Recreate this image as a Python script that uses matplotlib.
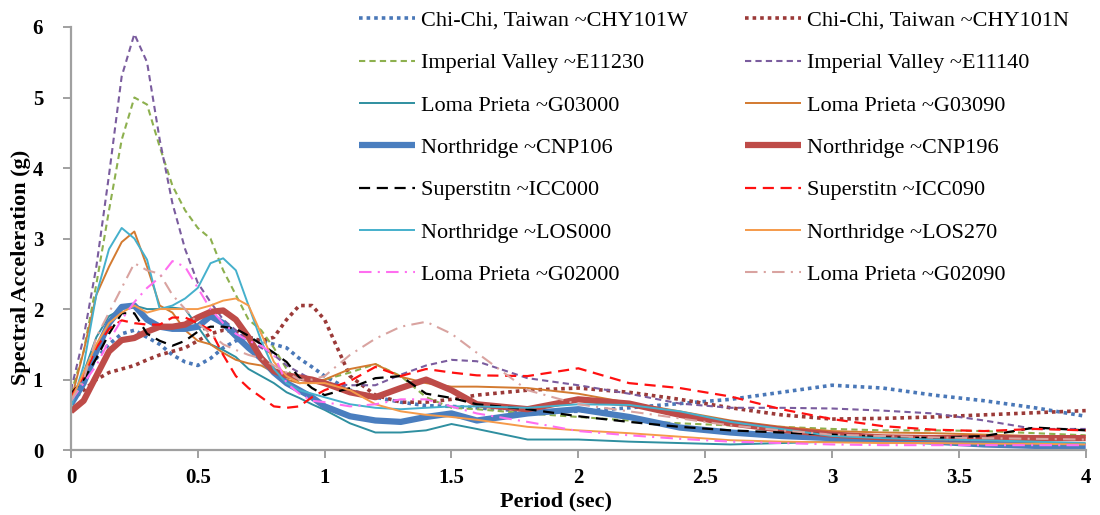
import matplotlib
matplotlib.use("Agg")
import matplotlib.pyplot as plt

plt.rcParams['font.family'] = ['Liberation Serif', 'DejaVu Serif']

period = [0, 0.05, 0.1, 0.15, 0.2, 0.25, 0.3, 0.35, 0.4, 0.45, 0.5, 0.55, 0.6, 0.65,
          0.7, 0.75, 0.8, 0.85, 0.9, 0.95, 1.0, 1.1, 1.2, 1.3, 1.4, 1.5, 1.6, 1.8,
          2.0, 2.2, 2.4, 2.6, 2.8, 3.0, 3.2, 3.4, 3.6, 3.8, 4.0]

chy101w = [0.75, 1.0, 1.3, 1.5, 1.65, 1.7, 1.6, 1.5, 1.35, 1.25, 1.2, 1.3, 1.45, 1.55,
           1.6, 1.55, 1.5, 1.45, 1.3, 1.18, 1.05, 0.85, 0.75, 0.68, 0.63, 0.62, 0.6, 0.55,
           0.55, 0.6, 0.66, 0.72, 0.82, 0.92, 0.88, 0.78, 0.7, 0.6, 0.48]
chy101n = [0.7, 0.85, 1.0, 1.1, 1.15, 1.2, 1.28, 1.35, 1.4, 1.45, 1.55, 1.65, 1.7, 1.68,
           1.6, 1.55, 1.6, 1.85, 2.05, 2.05, 1.85, 1.05, 0.78, 0.68, 0.68, 0.72, 0.78, 0.85,
           0.88, 0.82, 0.72, 0.6, 0.5, 0.44, 0.45, 0.47, 0.5, 0.53, 0.56]
e11230 = [0.8, 1.4, 2.35, 3.4, 4.4, 5.0, 4.9, 4.3, 3.75, 3.4, 3.15, 3.0, 2.55, 2.2,
          1.85, 1.7, 1.45, 1.15, 0.95, 0.95, 1.0, 1.1, 1.22, 1.05, 0.75, 0.6, 0.58, 0.52,
          0.47, 0.42, 0.38, 0.35, 0.33, 0.3, 0.28, 0.28, 0.27, 0.24, 0.21]
e11140 = [0.85, 1.6, 2.6, 3.9, 5.3, 5.9, 5.5, 4.4, 3.5, 2.85, 2.37, 2.1, 1.85, 1.7,
          1.55, 1.45, 1.35, 1.2, 1.1, 1.0, 0.95, 0.92, 0.92, 1.07, 1.2, 1.28, 1.26, 1.02,
          0.92, 0.8, 0.66, 0.6, 0.6, 0.59, 0.56, 0.52, 0.42, 0.3, 0.3]
g03000 = [0.65, 1.1, 1.6, 1.9, 2.0, 2.05, 2.0, 2.0, 2.02, 2.0, 1.75, 1.5, 1.42, 1.32,
          1.15, 1.05, 0.95, 0.82, 0.74, 0.65, 0.57, 0.38, 0.25, 0.25, 0.28, 0.37, 0.3, 0.15,
          0.15, 0.12, 0.1, 0.08, 0.1, 0.12, 0.12, 0.12, 0.12, 0.1, 0.08]
g03090 = [0.7, 1.4, 2.2, 2.6, 2.95, 3.1, 2.6, 2.05, 1.95, 1.7, 1.55, 1.5, 1.38, 1.28,
          1.23, 1.2, 1.1, 1.0, 0.95, 0.97, 1.0, 1.15, 1.22, 1.04, 0.95, 0.9, 0.9, 0.88,
          0.8, 0.67, 0.55, 0.42, 0.33, 0.27, 0.25, 0.24, 0.22, 0.2, 0.18]
cnp106 = [0.65, 0.95, 1.4, 1.8, 2.03, 2.05, 1.85, 1.75, 1.72, 1.72, 1.75, 1.9, 1.8, 1.62,
          1.45, 1.3, 1.1, 0.95, 0.85, 0.75, 0.62, 0.48, 0.42, 0.4, 0.47, 0.52, 0.42, 0.52,
          0.58, 0.47, 0.32, 0.25, 0.2, 0.17, 0.15, 0.12, 0.08, 0.06, 0.05]
cnp196 = [0.55, 0.7, 1.05, 1.4, 1.56, 1.59, 1.68, 1.75, 1.75, 1.78, 1.88, 1.96, 1.98, 1.85,
          1.6, 1.3, 1.12, 1.06, 1.03, 1.0, 0.95, 0.82, 0.75, 0.88, 1.0, 0.85, 0.65, 0.58,
          0.72, 0.66, 0.5, 0.38, 0.29, 0.22, 0.18, 0.17, 0.17, 0.17, 0.17]
icc000 = [0.8, 1.0, 1.3, 1.65, 1.94, 1.94, 1.65, 1.55, 1.48, 1.55, 1.68, 1.75, 1.75, 1.72,
          1.62, 1.5, 1.38, 1.25, 1.03, 0.88, 0.78, 0.88, 1.02, 1.05, 0.8, 0.74, 0.65, 0.58,
          0.48, 0.4, 0.33, 0.28, 0.25, 0.22, 0.18, 0.17, 0.2, 0.32, 0.28]
icc090 = [0.75, 1.05, 1.45, 1.72, 1.84, 1.8, 1.78, 1.78, 1.88, 1.88, 1.8, 1.7, 1.35, 1.05,
          0.88, 0.75, 0.62, 0.6, 0.62, 0.75, 0.85, 0.98, 1.18, 1.05, 1.15, 1.1, 1.06, 1.05,
          1.16, 0.95, 0.88, 0.76, 0.58, 0.44, 0.34, 0.29, 0.27, 0.3, 0.28]
los000 = [0.6, 1.2, 2.2, 2.85, 3.15, 3.0, 2.7, 2.0, 2.05, 2.15, 2.3, 2.65, 2.72, 2.55,
          2.05, 1.55, 1.15, 0.95, 0.85, 0.8, 0.75, 0.65, 0.6, 0.58, 0.6, 0.62, 0.62, 0.6,
          0.65, 0.64, 0.55, 0.4, 0.3, 0.2, 0.17, 0.15, 0.14, 0.12, 0.1]
los270 = [0.7, 1.1, 1.5, 1.8, 1.95, 2.05, 1.95, 2.0, 2.0, 2.0, 2.0, 2.05, 2.12, 2.15,
          2.05, 1.65, 1.25, 1.05, 0.95, 0.95, 0.95, 0.85, 0.65, 0.55, 0.5, 0.47, 0.43, 0.33,
          0.28, 0.24, 0.19, 0.14, 0.12, 0.11, 0.1, 0.1, 0.09, 0.09, 0.08]
g02000 = [0.7, 0.95, 1.2, 1.55, 1.85, 2.1, 2.3, 2.45, 2.68, 2.6, 2.3, 2.0, 1.8, 1.65,
          1.55, 1.48, 1.35, 0.95, 0.8, 0.7, 0.68, 0.62, 0.65, 0.72, 0.72, 0.62, 0.52, 0.4,
          0.27, 0.21, 0.16, 0.12, 0.1, 0.08, 0.07, 0.07, 0.07, 0.07, 0.07]
g02090 = [0.7, 1.0, 1.6, 1.95, 2.3, 2.65, 2.55, 2.5, 2.2, 2.0, 1.8, 1.65, 1.5, 1.42,
          1.35, 1.3, 1.2, 1.1, 1.0, 1.0, 1.05, 1.35, 1.58, 1.75, 1.82, 1.65, 1.38, 0.85,
          0.65, 0.55, 0.45, 0.35, 0.28, 0.22, 0.2, 0.18, 0.17, 0.16, 0.15]

labels = ["Chi-Chi, Taiwan ~CHY101W", "Chi-Chi, Taiwan ~CHY101N",
          "Imperial Valley ~E11230", "Imperial Valley ~E11140",
          "Loma Prieta ~G03000", "Loma Prieta ~G03090",
          "Northridge ~CNP106", "Northridge ~CNP196",
          "Superstitn ~ICC000", "Superstitn ~ICC090",
          "Northridge ~LOS000", "Northridge ~LOS270",
          "Loma Prieta ~G02000", "Loma Prieta ~G02090"]
series = [chy101w, chy101n, e11230, e11140, g03000, g03090, cnp106, cnp196,
          icc000, icc090, los000, los270, g02000, g02090]

styles = [
    dict(color="#4A78B8", lw=2.6, ls=(0, (1, 1.1))),
    dict(color="#9B3A38", lw=2.6, ls=(0, (1, 1.1))),
    dict(color="#8DB04E", lw=1.5, ls=(0, (3, 2))),
    dict(color="#7A5C9E", lw=1.5, ls=(0, (3, 2))),
    dict(color="#2F8FA0", lw=1.4, ls="-"),
    dict(color="#D37A30", lw=1.4, ls="-"),
    dict(color="#4A7EBF", lw=4.5, ls="-"),
    dict(color="#BE4B48", lw=4.5, ls="-"),
    dict(color="#000000", lw=1.6, ls=(0, (5, 3))),
    dict(color="#FF1010", lw=1.6, ls=(0, (5, 3))),
    dict(color="#45B0CC", lw=1.4, ls="-"),
    dict(color="#F59A4A", lw=1.4, ls="-"),
    dict(color="#FF6EF0", lw=1.5, ls=(0, (6, 3, 1, 3))),
    dict(color="#D9A3A0", lw=1.5, ls=(0, (6, 3, 1, 3))),
]

fig = plt.figure(figsize=(11, 5.15), dpi=100)
ax = fig.add_axes([0.0645, 0.126, 0.9225, 0.8216])

handles = []
for vals, lab, st in zip(series, labels, styles):
    h, = ax.plot(period, vals, label=lab, color=st["color"], lw=st["lw"],
                 linestyle=st["ls"], dash_capstyle="butt", solid_capstyle="butt")
    handles.append(h)

ax.set_xlim(0, 4)
ax.set_ylim(0, 6)
xticks = [0, 0.5, 1, 1.5, 2, 2.5, 3, 3.5, 4]
xtick_labels = ["0", "0.5", "1", "1.5", "2", "2.5", "3", "3.5", "4"]
yticks = [0, 1, 2, 3, 4, 5, 6]
ax.set_xticks(xticks)
ax.set_xticklabels(xtick_labels, fontsize=15, fontweight="bold")
ax.set_yticks(yticks)
ax.set_yticklabels([str(v) for v in yticks], fontsize=15, fontweight="bold")

for s in ["top", "right"]:
    ax.spines[s].set_visible(False)
for s in ["left", "bottom"]:
    ax.spines[s].set_color("#A0A0A0")
    ax.spines[s].set_linewidth(1.6)
ax.tick_params(axis="both", direction="out", length=6, width=1.4, color="#A0A0A0")
ax.tick_params(axis="x", pad=7)
ax.tick_params(axis="y", pad=14)

ax.set_xlabel("Period (sec)", fontsize=16, fontweight="bold")
ax.set_ylabel("Spectral Acceleration (g)", fontsize=16, fontweight="bold")
ax.xaxis.set_label_coords(0.478, -0.098)
ax.yaxis.set_label_coords(-0.039, 0.433)

order = [0, 2, 4, 6, 8, 10, 12, 1, 3, 5, 7, 9, 11, 13]
leg = fig.legend([handles[i] for i in order], [labels[i] for i in order],
                 ncol=2, loc="upper left", bbox_to_anchor=(0.3245, 0.984),
                 frameon=False, fontsize=16, handlelength=2.5, handletextpad=0.3,
                 columnspacing=2.55, labelspacing=0.98, borderpad=0.1,
                 borderaxespad=0)

fig.savefig("out.png", dpi=100)
